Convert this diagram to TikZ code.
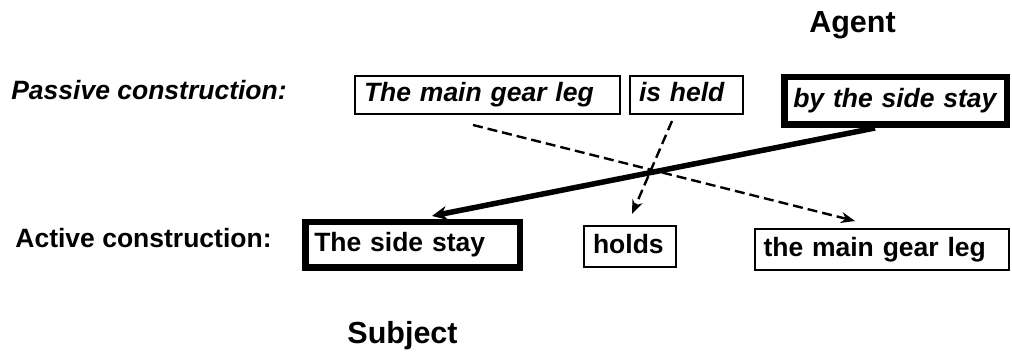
\documentclass[tikz,border=0pt]{standalone}
\usepackage{fontspec}
\setmainfont{Liberation Sans}
\usepackage{tikz}
\usetikzlibrary{arrows.meta}
\usetikzlibrary{shapes.geometric, arrows, positioning}
\newcommand\wordfont{\fontsize{26.5}{31}\selectfont\bfseries}
\newcommand\rolefont{\fontsize{30.5}{35}\selectfont\bfseries}
\tikzstyle{dasharrow} = [line width=2.4pt, dash pattern=on 10pt off 5pt, -{Stealth[length=14pt,width=11pt]}]
\tikzstyle{agentarrow} = [line width=5.5pt, -{Stealth[length=15pt,width=14pt]}]
\tikzstyle{construction} = [inner sep=0pt, font=\wordfont]
\tikzstyle{role} = [inner sep=0pt, font=\rolefont]
\tikzset{
	wordbox/.style = {rectangle, draw=black, line width=2pt,
		inner xsep=9pt, inner ysep=0pt, text height=19pt, text depth=5.5pt,
		text width =\pgfkeysvalueof{/pgf/minimum width}-2*\pgfkeysvalueof{/pgf/inner xsep},
		align=left, font=\wordfont
	},
	thickbox/.style = {wordbox, line width=6.5pt},
	passiveword/.style = {font=\wordfont\itshape}
}

\begin{document}
\begin{tikzpicture}[x=1pt, y=-1pt]
\useasboundingbox (0,0) rectangle (1012,352);
%----------------------------------------------------------------------------
% Placement of sentence nodes
\node (gearLeg) [wordbox, passiveword, minimum width=265pt, minimum height=38pt] at (487.5,95) {The main gear leg};
\node (isHeld) [wordbox, passiveword, minimum width=113pt, minimum height=38pt, right of = gearLeg, node distance = 199pt] {is held};
\node (byStay) [thickbox, passiveword, minimum width=222.5pt, minimum height=47.5pt, right of = isHeld, node distance = 209pt, yshift=-6pt] {by the side stay};

\node (sideStay) [thickbox, minimum width=214.5pt, minimum height=45.5pt] at (412.5,245) {The side stay};
\node (holds) [wordbox, minimum width=92pt, minimum height=41pt, right of = sideStay, node distance = 217.5pt, yshift=-1.5pt] {holds};
\node (mainLeg) [wordbox, minimum width=254pt, minimum height=41pt, right of = holds, node distance = 251.5pt, yshift=-3pt] {the main gear leg};

%----------------------------------------------------------------------------
% Labels
\node (passiveLbl) [construction, font=\wordfont\itshape] at (149,90.5) {Passive construction:};
\node (activeLbl) [construction] at (143.5,238.5) {Active construction:};
\node (agentLbl) [role] at (852.5,25) {Agent};
\node (subjectLbl) [role] at (402.5,336) {Subject};

%----------------------------------------------------------------------------
% Lines
\draw [agentarrow] ([xshift=-20.5pt]byStay.south) -- ([xshift=19.5pt, yshift=3pt]sideStay.north);
\draw [dasharrow] ([xshift=-14.5pt, yshift=-10pt]gearLeg.south) -- ([xshift=-26.5pt, yshift=7pt]mainLeg.north);
\draw [dasharrow] ([xshift=-14.5pt, yshift=-6pt]isHeld.south) -- ([xshift=2pt, yshift=11pt]holds.north);
\end{tikzpicture}
\end{document}
